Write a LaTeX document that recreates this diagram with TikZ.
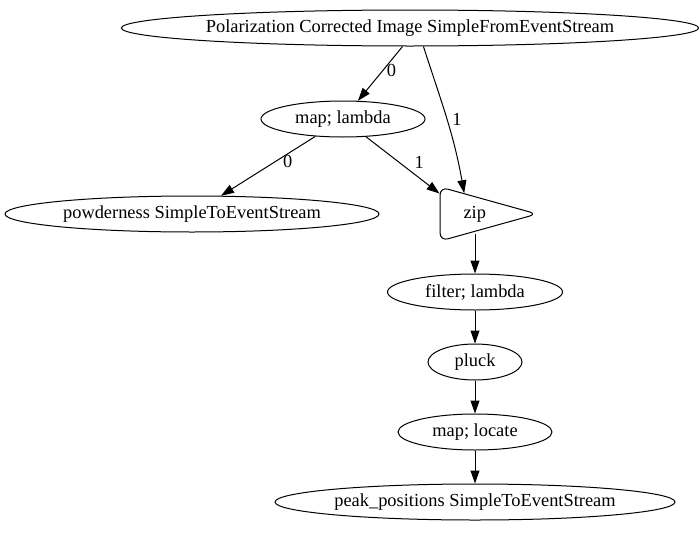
\documentclass[tikz,border=0pt]{standalone}
\usepackage{fontspec}
\setmainfont{Liberation Serif}
\usetikzlibrary{arrows.meta, positioning, shapes.geometric}

\begin{document}
\begin{tikzpicture}[x=1pt, y=-1pt, >={Triangle[length=13pt, width=9pt]},
    font=\fontsize{18.4}{21}\selectfont, line width=1pt,
    oval/.style={draw, ellipse, minimum height=36pt, inner sep=0pt},
    elabel/.style={inner sep=1pt}]
  \useasboundingbox (0,0) rectangle (699,533);

  % Stream nodes
  \node[oval, minimum width=570pt] (src) at (410,28) {Polarization Corrected Image SimpleFromEventStream};
  \node[oval, minimum width=164pt] (maplam) at (343,119) {map; lambda};
  \node[oval, minimum width=374pt] (powder) at (192,214) {powderness SimpleToEventStream};
  \node[draw, isosceles triangle, isosceles triangle stretches, shape border rotate=0,
        rounded corners=8pt, minimum width=54pt, minimum height=97pt, inner sep=0pt,
        text width=40pt, align=right]
        (zip) at (466,214) {zip};
  \node[oval, minimum width=175pt] (filt) at (475,292) {filter; lambda};
  \node[oval, minimum width=94pt] (pluck) at (475,362) {pluck};
  \node[oval, minimum width=154pt] (maploc) at (475,432) {map; locate};
  \node[oval, minimum width=400pt] (peaks) at (475,502) {peak\_positions SimpleToEventStream};

  % Edges
  \draw[->] (src.-112) -- (maplam) node[elabel, pos=0.45, right=3pt] {0};
  \draw[->] (src.-54) to[out=-72, in=100] node[elabel, pos=0.5, right=4pt] {1} (zip.95);
  \draw[->] (maplam) -- (powder) node[elabel, pos=0.42, right=6pt] {0};
  \draw[->] (maplam) -- (zip) node[elabel, pos=0.45, right=14pt] {1};
  \draw[->] (zip.south -| filt) -- (filt);
  \draw[->] (filt) -- (pluck);
  \draw[->] (pluck) -- (maploc);
  \draw[->] (maploc) -- (peaks);
\end{tikzpicture}
\end{document}
